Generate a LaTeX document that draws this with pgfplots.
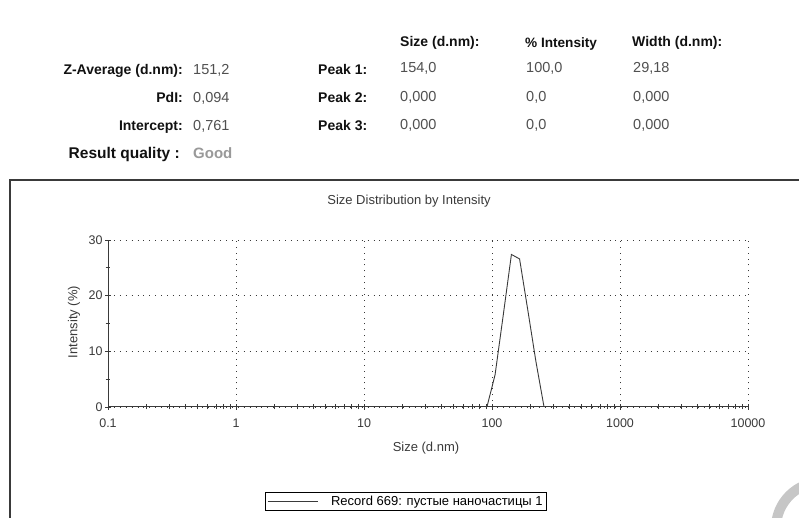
\documentclass[border=0pt]{standalone}
\usepackage{fontspec}
\setmainfont{Liberation Sans}
\usepackage{pgfplots}
\pgfplotsset{compat=1.18}
\definecolor{lbl}{HTML}{111111}
\definecolor{val}{HTML}{505050}
\definecolor{good}{HTML}{999999}
\definecolor{axc}{HTML}{3A3A3A}
\newcommand\fs[1]{\fontsize{#1bp}{#1bp}\selectfont}
\begin{document}
\begin{tikzpicture}[x=1bp,y=1bp]
\path[use as bounding box, fill=white] (0,0) rectangle (799,518);
% ---- header table ----
\begin{scope}[every node/.style={inner sep=0pt}]
\node[anchor=base east, text=lbl] at (183,443) {\fs{14}\bfseries Z-Average (d.nm):};
\node[anchor=base east, text=lbl] at (183,415) {\fs{14}\bfseries PdI:};
\node[anchor=base east, text=lbl] at (183,387) {\fs{14}\bfseries Intercept:};
\node[anchor=base east, text=lbl] at (180,359) {\fs{15.5}\bfseries Result quality :};
\node[anchor=base west, text=val] at (193,443) {\fs{14.5}151,2};
\node[anchor=base west, text=val] at (193,415) {\fs{14.5}0,094};
\node[anchor=base west, text=val] at (193,387) {\fs{14.5}0,761};
\node[anchor=base west, text=good] at (193,359) {\fs{15}\bfseries Good};
\node[anchor=base west, text=lbl] at (318,443) {\fs{14}\bfseries Peak 1:};
\node[anchor=base west, text=lbl] at (318,415) {\fs{14}\bfseries Peak 2:};
\node[anchor=base west, text=lbl] at (318,387) {\fs{14}\bfseries Peak 3:};
\node[anchor=base west, text=lbl] at (400,471) {\fs{14}\bfseries Size (d.nm):};
\node[anchor=base west, text=lbl] at (525,470) {\fs{13.6}\bfseries \% Intensity};
\node[anchor=base west, text=lbl] at (632,471) {\fs{14}\bfseries Width (d.nm):};
\node[anchor=base west, text=val] at (400,445) {\fs{14.5}154,0};
\node[anchor=base west, text=val] at (400,416) {\fs{14.5}0,000};
\node[anchor=base west, text=val] at (400,388) {\fs{14.5}0,000};
\node[anchor=base west, text=val] at (526,445) {\fs{14.5}100,0};
\node[anchor=base west, text=val] at (526,416) {\fs{14.5}0,0};
\node[anchor=base west, text=val] at (526,388) {\fs{14.5}0,0};
\node[anchor=base west, text=val] at (633,445) {\fs{14.5}29,18};
\node[anchor=base west, text=val] at (633,416) {\fs{14.5}0,000};
\node[anchor=base west, text=val] at (633,388) {\fs{14.5}0,000};
\end{scope}
% ---- frame of the chart panel ----
\draw[axc, line width=1.5bp] (10,-5) -- (10,338) -- (805,338);
% ---- watermark arc ----
\draw[gray!45, line width=10bp] (822,-10) circle (46);
% ---- titles ----
\node[text=axc, inner sep=0pt] at (409,317) {\fs{13}Size Distribution by Intensity};
\node[text=axc, inner sep=0pt] at (426,70) {\fs{13}Size (d.nm)};
\node[text=axc, inner sep=0pt, rotate=90] at (74,196) {\fs{13}Intensity (\%)};
\begin{axis}[
  at={(108bp,111bp)}, anchor=south west,
  width=640bp, height=167bp, scale only axis,
  xmode=log, xmin=0.1, xmax=10000, ymin=0, ymax=30,
  axis x line*=bottom, axis y line*=left,
  xtick={0.1,1,10,100,1000,10000},
  xticklabels={0.1,1,10,100,1000,10000},
  minor xtick={0.2,0.3,0.4,0.5,0.6,0.7,0.8,0.9,2,3,4,5,6,7,8,9,20,30,40,50,60,70,80,90,200,300,400,500,600,700,800,900,2000,3000,4000,5000,6000,7000,8000,9000},
  ytick={0,10,20,30}, minor ytick={5,15,25},
  /pgf/number format/assume math mode=true,
  grid=major,
  major grid style={axc, line width=0.9bp, dash pattern=on 0.9bp off 5bp},
  minor grid style={draw=none},
  tick align=center,
  major tick length=6bp, minor tick length=5bp,
  every tick/.style={axc, line width=0.8bp},
  axis line style={axc, line width=1bp},
  tick label style={text=axc, font=\fs{12.5}},
  xticklabel style={yshift=-5bp},
  yticklabel style={xshift=1bp},
  legend style={at={(0.245,-0.509)}, anchor=north west, draw=black, line width=0.8bp,
    font=\fs{13}, inner xsep=2bp, inner ysep=1.5bp, row sep=0pt,
    /tikz/every even column/.append style={column sep=2bp}},
  legend image code/.code={\draw[#1] (-1bp,0bp) -- (49bp,0bp);},
  legend cell align=left,
]
\addplot[color=axc, line width=0.9bp] coordinates {
 (0.4,0) (91.28,0) (105.7,5.8) (122.4,16.5) (141.8,27.4) (164.2,26.6)
 (190.1,17.5) (220.2,8.2) (255.0,0) (10000,0)
};
\addlegendentry{\hspace{11bp}Record 669: пустые наночастицы 1}
\end{axis}
\end{tikzpicture}
\end{document}
